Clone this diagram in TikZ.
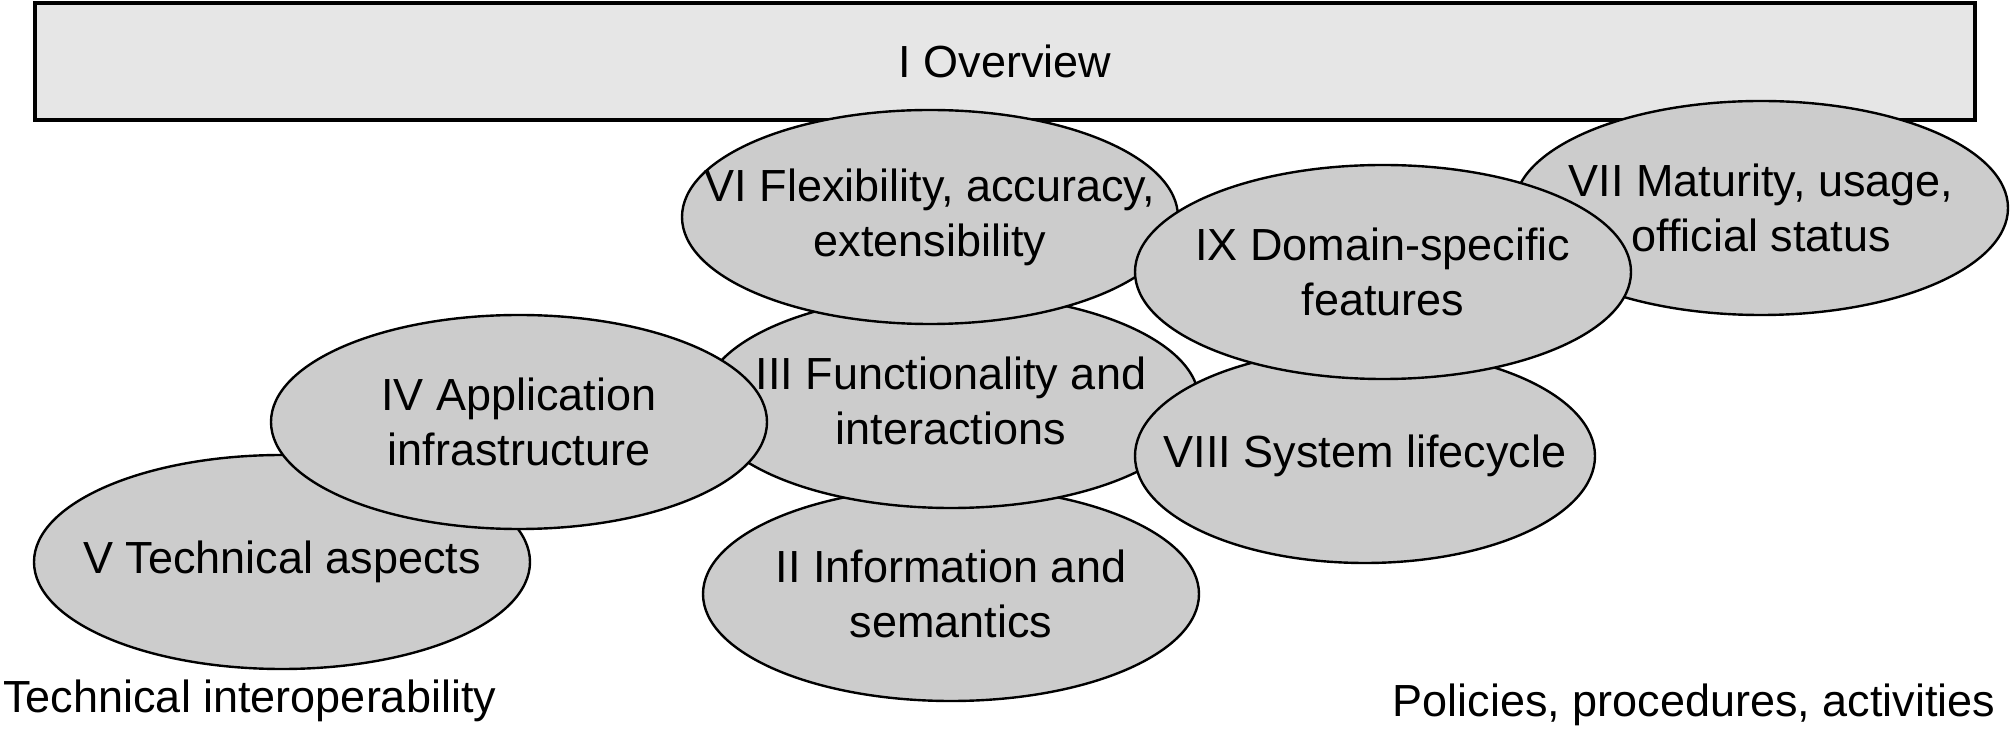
\documentclass[tikz,border=0pt]{standalone}
\usepackage{fontspec}
\setmainfont{Liberation Sans}
\usetikzlibrary{shapes.geometric}
\definecolor{ellfill}{HTML}{CCCCCC}
\definecolor{rectfill}{HTML}{E6E6E6}
\begin{document}
\begin{tikzpicture}[x=0.5pt,y=-0.5pt,
  bubble/.style={draw=black, line width=1.2pt, fill=ellfill},
  txt/.style={inner sep=0pt, align=center, font=\fontsize{22.5}{27.5}\selectfont},
  bar/.style={draw=black, line width=1.6pt, fill=rectfill, inner sep=0pt,
    minimum width=970pt, minimum height=58.5pt, font=\fontsize{22.5}{27.5}\selectfont}]
\useasboundingbox (0,0) rectangle (2010,737);
\node[bar] (ov) at (1005,61.5) {I Overview};
% V
\path[bubble] (282,562) ellipse [x radius=124pt, y radius=53.5pt];
\node[txt] (v) at (282,562) {V Technical aspects};
% II
\path[bubble] (951,594) ellipse [x radius=124pt, y radius=53.5pt];
\node[txt] (ii) at (951,594) {II Information and\\semantics};
% III
\path[bubble] (951,401) ellipse [x radius=124pt, y radius=53.5pt];
\node[txt] (iii) at (951,401) {III Functionality and\\interactions};
% IV
\path[bubble] (519,422) ellipse [x radius=124pt, y radius=53.5pt];
\node[txt] (iv) at (519,422) {IV Application\\infrastructure};
% VI
\path[bubble] (930,217) ellipse [x radius=124pt, y radius=53.5pt];
\node[txt] (vi) at (930,217) {VI Flexibility, accuracy,\\extensibility};
% VIII
\path[bubble] (1365,456) ellipse [x radius=115pt, y radius=53.5pt];
\node[txt] (viii) at (1365,456) {VIII System lifecycle};
% VII
\path[bubble] (1761,208) ellipse [x radius=123.5pt, y radius=53.5pt];
\node[txt] (vii) at (1761,208) {VII Maturity, usage,\\official status};
% IX
\path[bubble] (1383,272) ellipse [x radius=124pt, y radius=53.5pt];
\node[txt] (ix) at (1383,272) {IX Domain-specific\\features};
% bottom labels
\node[txt, anchor=west] (ti) at (3,701) {Technical interoperability};
\node[txt, anchor=east] (ppa) at (1996,705) {Policies, procedures, activities};
\end{tikzpicture}
\end{document}
